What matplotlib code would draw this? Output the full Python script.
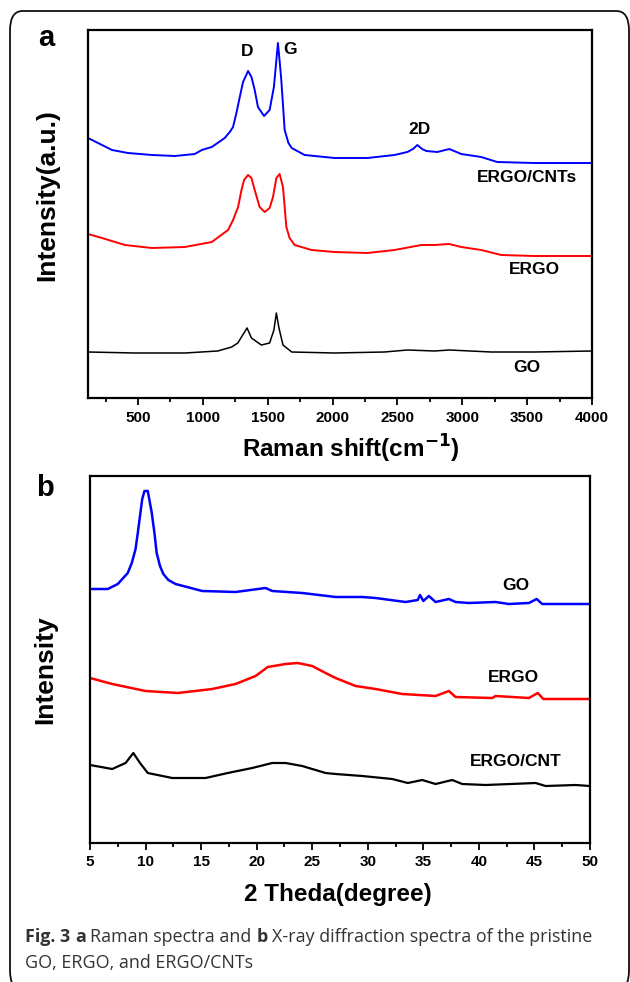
import matplotlib
matplotlib.use("Agg")
import matplotlib.pyplot as plt
from matplotlib.patches import FancyBboxPatch
from matplotlib.ticker import MultipleLocator

# Raman spectra (a), wavenumber in cm-1, intensity in a.u.
raman_cnt_x = [115, 192, 300, 423, 608, 785, 938, 992, 1069, 1169, 1208, 1233, 1259, 1285,
               1310, 1349, 1375, 1400, 1425, 1472, 1515, 1548, 1565, 1579, 1590, 1605, 1631,
               1660, 1685, 1785, 2015, 2269, 2477, 2577, 2620, 2654, 2690, 2723, 2808, 2900,
               2992, 3146, 3269, 3554, 4000]
raman_cnt_y = [260, 255, 248, 245, 243, 242, 244, 248, 251, 260, 266, 271, 285, 301,
               316, 327, 321, 308, 291, 282, 288, 311, 335, 355, 340, 318, 268,
               255, 250, 243, 240, 240, 243, 246, 249, 253, 249, 247, 246, 249,
               244, 241, 236, 235, 235]

raman_ergo_x = [115, 223, 400, 608, 862, 1069, 1195, 1233, 1272, 1298, 1318, 1349, 1375,
                1400, 1438, 1477, 1515, 1541, 1567, 1592, 1618, 1631, 1644, 1669, 1708,
                1838, 2015, 2269, 2477, 2685, 2785, 2900, 2992, 3146, 3300, 3554, 4000]
raman_ergo_y = [164, 160, 153, 150, 151, 156, 168, 178, 191, 208, 218, 223, 220,
                208, 191, 186, 190, 201, 220, 224, 211, 191, 171, 160, 153,
                148, 146, 145, 148, 153, 153, 154, 151, 148, 143, 142, 142]

raman_go_x = [115, 477, 862, 1115, 1223, 1270, 1298, 1341, 1375, 1451, 1515, 1548, 1567,
              1587, 1618, 1685, 2015, 2400, 2577, 2785, 2900, 3223, 3554, 4000]
raman_go_y = [46, 45, 45, 47, 51, 55, 61, 70, 60, 53, 55, 68, 85,
              70, 53, 46, 45, 46, 48, 47, 48, 46, 46, 47]

# XRD patterns (b), 2 theta in degree
xrd_go_x = [5.0, 6.6, 7.5, 8.4, 8.76, 9.1, 9.3, 9.5, 9.7, 9.9, 10.2, 10.56, 10.8, 11.0,
            11.3, 11.6, 12.05, 12.7, 15.1, 18.1, 20.8, 21.4, 24.1, 27.1, 29.5, 30.7, 33.4,
            34.5, 34.7, 35.0, 35.5, 36.1, 37.3, 37.9, 39.1, 41.5, 42.7, 44.5, 45.2, 45.7,
            48.1, 50.0]
xrd_go_y = [254, 254, 259, 270, 280, 294, 310, 327, 344, 352, 352, 330, 310, 290,
            277, 269, 263, 259, 252, 251, 255, 252, 250, 246, 246, 245, 241,
            243, 248, 242, 247, 241, 244, 241, 240, 241, 239, 240, 244, 239,
            239, 239]

xrd_ergo_x = [5.0, 7.0, 10.0, 12.9, 16.0, 18.1, 19.9, 21.0, 22.6, 23.7, 25.0, 26.2, 27.1,
              28.9, 30.7, 33.1, 36.1, 37.3, 37.9, 41.2, 41.5, 44.5, 45.3, 45.8, 50.0]
xrd_ergo_y = [165, 159, 152, 150, 154, 159, 167, 176, 179, 180, 177, 170, 165,
              157, 154, 149, 147, 152, 146, 145, 147, 145, 150, 144, 144]

xrd_cnt_x = [5.0, 7.0, 8.2, 8.9, 9.5, 10.2, 12.4, 15.4, 17.4, 19.6, 21.4, 22.6, 24.1, 26.2,
             27.1, 29.5, 32.2, 33.6, 34.9, 36.1, 37.6, 38.5, 40.6, 45.1, 46.0, 48.7, 50.0]
xrd_cnt_y = [78, 74, 80, 90, 80, 70, 65, 65, 70, 75, 80, 80, 77, 70,
             69, 67, 64, 60, 63, 59, 63, 59, 58, 60, 57, 58, 57]

W, H = 630, 982
plt.rcParams["font.family"] = ["Liberation Sans", "DejaVu Sans"]

fig = plt.figure(figsize=(W / 100, H / 100), dpi=100)


def fx(px):
    return px / W


def fy(py):
    return 1 - py / H


# rounded frame around the figure
frame = FancyBboxPatch((fx(10), fy(990)), fx(619), fy(11) - fy(990),
                       boxstyle="round,pad=0,rounding_size=0.02",
                       transform=fig.transFigure, fill=False, lw=1.3, ec="#111111")
fig.patches.append(frame)


def style_axes(ax):
    for s in ax.spines.values():
        s.set_linewidth(1.6)
    ax.tick_params(axis="x", which="major", direction="out", length=5, width=1.3,
                   labelsize=11, pad=4)
    ax.tick_params(axis="x", which="minor", direction="out", length=3, width=1.3)
    ax.tick_params(axis="y", which="both", left=False, labelleft=False)
    for lbl in ax.get_xticklabels():
        lbl.set_fontweight("bold")


# ---- panel a: Raman ----
ax1 = fig.add_axes([fx(88), fy(398), fx(592) - fx(88), fy(30) - fy(398)])
ax1.plot(raman_cnt_x, raman_cnt_y, color="#0000ff", lw=1.4)
ax1.plot(raman_ergo_x, raman_ergo_y, color="#ff0000", lw=1.4)
ax1.plot(raman_go_x, raman_go_y, color="#000000", lw=1.1)
ax1.set_xlim(115, 4000)
ax1.set_ylim(0, 368)
ax1.set_xticks([500, 1000, 1500, 2000, 2500, 3000, 3500, 4000])
ax1.xaxis.set_minor_locator(MultipleLocator(250))
style_axes(ax1)

ann = dict(fontsize=12.5, fontweight="bold", ha="center", va="center")
ax1.text(1338, 347, "D", **ann)
ax1.text(1669, 349, "G", **ann)
ax1.text(2669, 269, "2D", **ann)
ax1.text(3500, 220, "ERGO/CNTs", **ann)
ax1.text(3554, 128, "ERGO", **ann)
ax1.text(3500, 31, "GO", **ann)

# ---- panel b: XRD ----
ax2 = fig.add_axes([fx(90), fy(843), fx(590) - fx(90), fy(476) - fy(843)])
ax2.plot(xrd_go_x, xrd_go_y, color="#0000ff", lw=1.8)
ax2.plot(xrd_ergo_x, xrd_ergo_y, color="#ff0000", lw=1.8)
ax2.plot(xrd_cnt_x, xrd_cnt_y, color="#000000", lw=1.6)
ax2.set_xlim(5, 50)
ax2.set_ylim(0, 367)
ax2.set_xticks(range(5, 51, 5))
ax2.xaxis.set_minor_locator(MultipleLocator(2.5))
style_axes(ax2)

ax2.text(43.3, 258, "GO", **ann)
ax2.text(43.1, 166, "ERGO", **ann)
ax2.text(43.3, 82, "ERGO/CNT", **ann)

# axis titles and panel letters
fig.text(fx(46), fy(38), "a", fontsize=21, fontweight="bold", ha="center", va="center")
fig.text(fx(45), fy(488), "b", fontsize=21, fontweight="bold", ha="center", va="center")
fig.text(fx(47), fy(195), "Intensity(a.u.)", fontsize=19, fontweight="bold",
         rotation=90, ha="center", va="center")
fig.text(fx(45), fy(670), "Intensity", fontsize=19, fontweight="bold",
         rotation=90, ha="center", va="center")
fig.text(fx(351), fy(449), r"Raman shift(cm$^{\mathbf{-1}}$)", fontsize=17.5,
         fontweight="bold", ha="center", va="center")
fig.text(fx(338), fy(895), "2 Theda(degree)", fontsize=17.5, fontweight="bold",
         ha="center", va="center")

# caption with mixed weights
cap_font = ["Open Sans", "DejaVu Sans"]
cap_size = 12.9
renderer = fig.canvas.get_renderer()
space = cap_size * 100 / 72 * 0.26 / W


def caption_line(x, y, runs):
    for s, w in runs:
        t = fig.text(x, y, s, family=cap_font, fontsize=cap_size, fontweight=w,
                     color="#333333", ha="left", va="center")
        x += t.get_window_extent(renderer=renderer).width / W + space


caption_line(fx(25), fy(937), [("Fig. 3", "bold"), ("a", "bold"), ("Raman spectra and", "normal"),
                               ("b", "bold"),
                               ("X-ray diffraction spectra of the pristine", "normal")])
caption_line(fx(25), fy(963), [("GO, ERGO, and ERGO/CNTs", "normal")])

fig.savefig("out.png", dpi=100)
